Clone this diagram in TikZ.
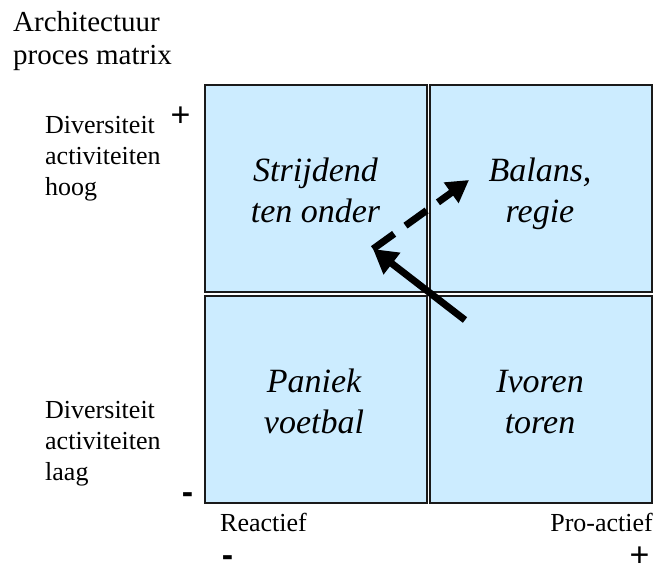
\documentclass[tikz,border=0pt]{standalone}
\usepackage{fontspec}
\setmainfont{Liberation Serif}
\newfontfamily\sansfam{Liberation Sans}
\usetikzlibrary{arrows.meta}
\definecolor{cellblue}{HTML}{CCECFF}
\definecolor{cellline}{HTML}{1A1A1A}
\begin{document}
\begin{tikzpicture}[x=1pt,y=-1pt,
  cell/.style={draw=cellline, line width=2pt, fill=cellblue, minimum width=222pt, minimum height=207pt, inner sep=0pt},
  quad/.style={font=\fontsize{34}{41}\selectfont\itshape, inner sep=0pt, anchor=base},
  axislabel/.style={font=\fontsize{26}{31}\selectfont, inner sep=0pt, anchor=base west},
  titlelabel/.style={font=\fontsize{29}{33}\selectfont, inner sep=0pt, anchor=base west},
  plusmark/.style={font=\sansfam\fontsize{34}{40}\selectfont, inner sep=0pt, anchor=base},
  minusmark/.style={font=\sansfam\bfseries\fontsize{34}{40}\selectfont, inner sep=0pt, anchor=base},
  bigarrow/.style={line width=7pt, -{Triangle[length=24pt,width=26pt]}},
  dasharrow/.style={line width=7pt, dash pattern=on 26pt off 14pt, -{Triangle[length=22pt,width=24pt]}}
]
\useasboundingbox (0,0) rectangle (656,572);
% cells
\node[cell] (tl) at (316,188.5) {};
\node[cell] (tr) at (541,188.5) {};
\node[cell] (bl) at (316,399.5) {};
\node[cell] (br) at (541,399.5) {};
% quadrant texts
\node[quad] (tl1) at (315.5,182) {Strijdend};
\node[quad] (tl2) at (315.5,223) {ten onder};
\node[quad] (tr1) at (540,182) {Balans,};
\node[quad] (tr2) at (540,223) {regie};
\node[quad] (bl1) at (314,392) {Paniek};
\node[quad] (bl2) at (314,433) {voetbal};
\node[quad] (br1) at (540,392) {Ivoren};
\node[quad] (br2) at (540,433) {toren};
% title
\node[titlelabel] (t1) at (13,32) {Architectuur};
\node[titlelabel] (t2) at (13,65) {proces matrix};
% left labels
\node[axislabel] (h1) at (45,134) {Diversiteit};
\node[axislabel] (h2) at (45,165) {activiteiten};
\node[axislabel] (h3) at (45,196) {hoog};
\node[axislabel] (l1) at (45,418) {Diversiteit};
\node[axislabel] (l2) at (45,449) {activiteiten};
\node[axislabel] (l3) at (45,480) {laag};
% bottom labels
\node[axislabel] (re) at (220,531) {Reactief};
\node[font=\fontsize{26}{31}\selectfont, inner sep=0pt, anchor=base east] (pa) at (653,531) {Pro-actief};
% signs
\node[plusmark] (p1) at (180.5,126.5) {+};
\node[plusmark] (p2) at (639.5,566) {+};
\node[minusmark] (m1) at (187.5,503) {-};
\node[minusmark] (m2) at (227.5,566) {-};
% arrows
\coordinate (s0) at (465,320);
\coordinate (s1) at (373,249);
\coordinate (d1) at (469,180);
\draw[bigarrow] (s0) -- (s1);
\draw[dasharrow] (s1) -- (d1);
\end{tikzpicture}
\end{document}
